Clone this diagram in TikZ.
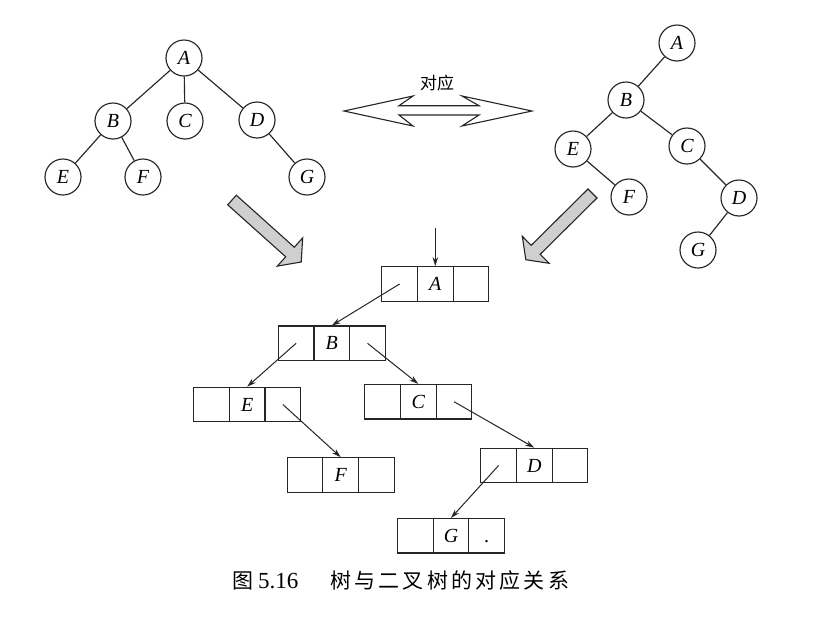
\documentclass[tikz,border=0pt]{standalone}
\usepackage{fontspec}
\setmainfont{Liberation Serif}
\newfontfamily\cjk{Noto Sans CJK SC}
\usetikzlibrary{arrows.meta}
\newcommand\tribox[5]{%
  \node[cell] (#1m) at (#2,#3) {#4};
  \node[cell] (#1l) at ({#2-35.7},#3) {};
  \node[cell] (#1r) at ({#2+35.7},#3) {#5};
}
\begin{document}
\begin{tikzpicture}[x=1pt,y=-1pt,
  ln/.style={line width=1.15pt, draw=black!85},
  tn/.style={circle, ln, minimum size=36pt, inner sep=0pt, font=\fontsize{20}{20}\selectfont\itshape, text height=13.2pt, text depth=0pt},
  cell/.style={rectangle, ln, minimum width=35.7pt, minimum height=34.5pt, inner sep=0pt, font=\fontsize{20}{20}\selectfont\itshape, text height=13.2pt, text depth=0pt},
  treeline/.style={ln},
  ptr/.style={line width=1pt, draw=black!85, -{Stealth[length=9pt,width=5.5pt]}},
  grayarrow/.style={line width=1.1pt, draw=black!85, fill=black!19, line join=miter},
  hollow/.style={line width=1.1pt, draw=black!85, fill=white, line join=miter}
]
\useasboundingbox[fill=white] (0,0) rectangle (831,619);

% ---- left tree ----
\node[tn] (LA) at (184,58) {A};
\node[tn] (LB) at (113,121) {B};
\node[tn] (LC) at (185,121) {C};
\node[tn] (LD) at (257,120) {D};
\node[tn] (LE) at (63,177) {E};
\node[tn] (LF) at (143,177) {F};
\node[tn] (LG) at (307,177) {G};
\draw[treeline] (LA) -- (LB);
\draw[treeline] (LA) -- (LC);
\draw[treeline] (LA) -- (LD);
\draw[treeline] (LB) -- (LE);
\draw[treeline] (LB) -- (LF);
\draw[treeline] (LD) -- (LG);

% ---- right tree ----
\node[tn] (RA) at (677,43) {A};
\node[tn] (RB) at (626,100) {B};
\node[tn] (RE) at (573,149) {E};
\node[tn] (RC) at (687,146) {C};
\node[tn] (RF) at (629,197) {F};
\node[tn] (RD) at (739,198) {D};
\node[tn] (RG) at (698,250) {G};
\draw[treeline] (RA) -- (RB);
\draw[treeline] (RB) -- (RE);
\draw[treeline] (RB) -- (RC);
\draw[treeline] (RE) -- (RF);
\draw[treeline] (RC) -- (RD);
\draw[treeline] (RD) -- (RG);

% ---- double arrow ----
\draw[hollow] (344,111) -- (413,96) -- (399,105.7) -- (479,105.7) -- (462,96) -- (532,111)
  -- (462,126) -- (479,115) -- (399,115) -- (413,126) -- cycle;
\node[font=\cjk\fontsize{17}{17}\selectfont] (lbl) at (437,83) {对应};

% ---- gray arrows ----
\draw[grayarrow] (227.7,204.8) -- (285.7,256.8) -- (277.3,266.1) -- (301.2,262.0)
  -- (302.7,237.9) -- (294.3,247.2) -- (236.3,195.2) -- cycle;
\draw[grayarrow] (597.0,198.0) -- (540.2,254.3) -- (549.1,263.3) -- (525.8,259.7)
  -- (522.3,236.3) -- (531.2,245.3) -- (588.0,189.0) -- cycle;

% ---- binary linked nodes ----
\tribox{A}{435.3}{284}{A}{}
\tribox{B}{331.8}{343.3}{B}{}
\tribox{E}{247.2}{404.5}{E}{}
\tribox{F}{340.7}{475}{F}{}
\tribox{C}{418.3}{401.7}{C}{}
\tribox{D}{534.3}{465.5}{D}{}
\tribox{G}{451}{535.8}{G}{\upshape.}

\coordinate (entry) at (435.3,228);
\draw[ptr] (entry) -- (Am.north);
\draw[ptr] (Al.center) -- (Bm.north);
\draw[ptr] (Bl.center) -- (Em.north);
\draw[ptr] (Br.center) -- (Cm.north);
\draw[ptr] (Er.center) -- (Fm.north);
\draw[ptr] (Cr.center) -- (Dm.north);
\draw[ptr] (Dl.center) -- (Gm.north);

% ---- caption ----
\node[anchor=west, inner sep=0pt] (cap) at (232,581) {\cjk\fontsize{21}{21}\selectfont 图\hspace{5pt}{\rmfamily\fontsize{23}{23}\selectfont 5.16}\hspace{31.8pt}树\hspace{3.2pt}与\hspace{3.2pt}二\hspace{3.2pt}叉\hspace{3.2pt}树\hspace{3.2pt}的\hspace{3.2pt}对\hspace{3.2pt}应\hspace{3.2pt}关\hspace{3.2pt}系};
\end{tikzpicture}
\end{document}
